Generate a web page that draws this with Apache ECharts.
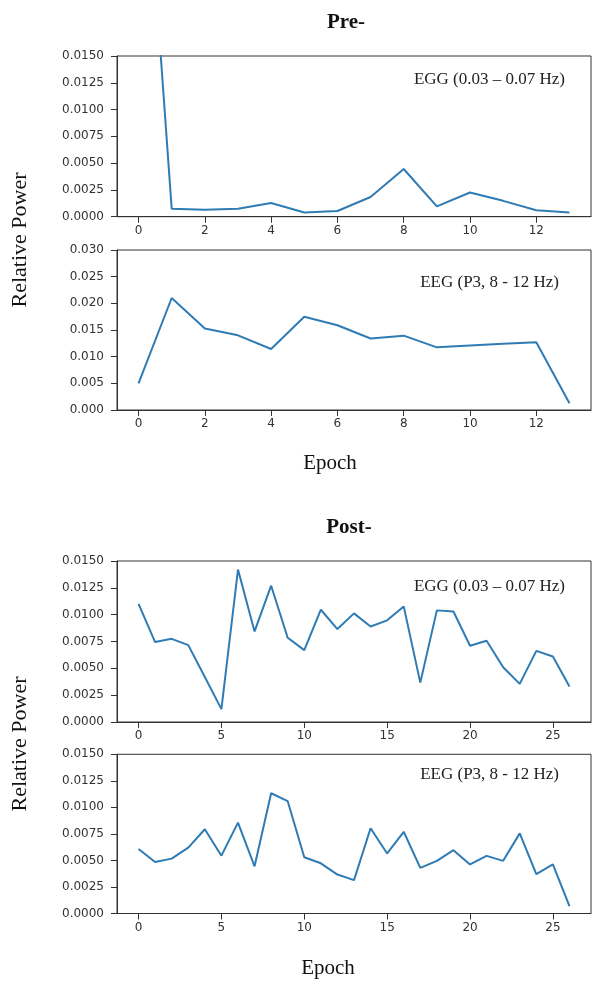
<!DOCTYPE html>
<html><head><meta charset="utf-8">
<script src="https://cdn.jsdelivr.net/npm/echarts@6/dist/echarts.min.js"></script>
<style>html,body{margin:0;padding:0;background:#fff}#c{width:592px;height:982px}</style>
</head><body><div id="c"></div>
<script>
const preEpochs = [0,1,2,3,4,5,6,7,8,9,10,11,12,13];
const postEpochs = [0,1,2,3,4,5,6,7,8,9,10,11,12,13,14,15,16,17,18,19,20,21,22,23,24,25,26];
const preEGG = [0.044, 0.00075, 0.00065, 0.00075, 0.00128, 0.0004, 0.00053, 0.00184, 0.00445, 0.00096, 0.00226, 0.00148, 0.0006, 0.0004];
const preEEG = [0.005, 0.0210, 0.0153, 0.0140, 0.01144, 0.0175, 0.0159, 0.0134, 0.01394, 0.01175, 0.0121, 0.01244, 0.01269, 0.00125];
const postEGG = [0.0110, 0.00745, 0.00775, 0.00716, 0.0042, 0.0012, 0.0142, 0.00844, 0.0127, 0.00785, 0.0067, 0.01046, 0.00866, 0.01012, 0.0089, 0.00947, 0.01077, 0.00367, 0.0104, 0.0103, 0.0071, 0.00757, 0.0051, 0.00355, 0.00663, 0.0061, 0.0033];
const postEEG = [0.00607, 0.00486, 0.00517, 0.0062, 0.00794, 0.00545, 0.00856, 0.00445, 0.01133, 0.01058, 0.0053, 0.00473, 0.00367, 0.00314, 0.00803, 0.00566, 0.0077, 0.0043, 0.00496, 0.00597, 0.00462, 0.00543, 0.00496, 0.00755, 0.0037, 0.00462, 0.0007];
const preXTicks = [0,2,4,6,8,10,12];
const postXTicks = [0,5,10,15,20,25];
const eggLabel = 'EGG (0.03 – 0.07 Hz)';
const eegLabel = 'EEG (P3, 8 - 12 Hz)';

const chart = echarts.init(document.getElementById('c'), null, {renderer:'canvas'});
const axisColor = '#333';
const tickFont = {fontFamily:'DejaVu Sans', fontSize:12, color:'#333'};
const serif = 'Liberation Serif';
const lineColor = '#2f7bb4';

const grids = [
  {left:117, width:474, top:56, height:160.7},
  {left:117, width:474, top:250, height:160},
  {left:117, width:474, top:561, height:161},
  {left:117, width:474, top:754.3, height:159.2}
].map(g => Object.assign({show:true, borderColor:axisColor, borderWidth:1, backgroundColor:'transparent'}, g));

function xAx(i, pre){
  const ticks = pre ? preXTicks : postXTicks;
  return {
    type:'value', gridIndex:i,
    min: pre ? -0.65 : -1.3, max: pre ? 13.65 : 27.3,
    splitLine:{show:false},
    axisLine:{show:true, onZero:false, lineStyle:{color:axisColor, width:1}},
    axisTick:{show:true, length:6, lineStyle:{color:axisColor}, customValues:ticks},
    axisLabel:Object.assign({margin:8, customValues:ticks, formatter:v=>String(v)}, tickFont)
  };
}
function yAx(i, max, interval, dec){
  return {
    type:'value', gridIndex:i, min:0, max:max, interval:interval,
    splitLine:{show:false},
    axisLine:{show:true, onZero:false, lineStyle:{color:axisColor, width:1}},
    axisTick:{show:true, length:6, lineStyle:{color:axisColor}},
    axisLabel:Object.assign({margin:13, formatter:v=>v.toFixed(dec)}, tickFont)
  };
}
function ser(i, xs, ys){
  return {
    type:'line', xAxisIndex:i, yAxisIndex:i,
    data: xs.map((x,k)=>[x, ys[k]]),
    showSymbol:false, symbol:'none', clip:true, animation:false,
    lineStyle:{color:lineColor, width:2}
  };
}
function txt(x, y, text, size, opts){
  return Object.assign({type:'text', x:x, y:y, silent:true,
    style:Object.assign({text:text, fontFamily:serif, fontSize:size, fill:'#111',
      textAlign:'center', textVerticalAlign:'middle'}, opts && opts.style || {})},
    opts && opts.extra || {});
}

chart.setOption({
  animation:false,
  backgroundColor:'#fff',
  grid: grids,
  xAxis: [xAx(0,true), xAx(1,true), xAx(2,false), xAx(3,false)],
  yAxis: [yAx(0,0.015,0.0025,4), yAx(1,0.03,0.005,3), yAx(2,0.015,0.0025,4), yAx(3,0.015,0.0025,4)],
  series: [ser(0,preEpochs,preEGG), ser(1,preEpochs,preEEG), ser(2,postEpochs,postEGG), ser(3,postEpochs,postEEG)],
  graphic: [
    txt(346, 23, 'Pre-', 21, {style:{fontWeight:'bold'}}),
    txt(349, 528, 'Post-', 21, {style:{fontWeight:'bold'}}),
    txt(565, 80, eggLabel, 17, {style:{textAlign:'right', fill:'#222'}}),
    txt(559, 283, eegLabel, 17, {style:{textAlign:'right', fill:'#222'}}),
    txt(565, 587, eggLabel, 17, {style:{textAlign:'right', fill:'#222'}}),
    txt(559, 775, eegLabel, 17, {style:{textAlign:'right', fill:'#222'}}),
    txt(20, 240, 'Relative Power', 22, {extra:{rotation:Math.PI/2}}),
    txt(20, 744, 'Relative Power', 22, {extra:{rotation:Math.PI/2}}),
    txt(330, 463, 'Epoch', 21),
    txt(328, 968, 'Epoch', 21)
  ]
});
</script></body></html>
